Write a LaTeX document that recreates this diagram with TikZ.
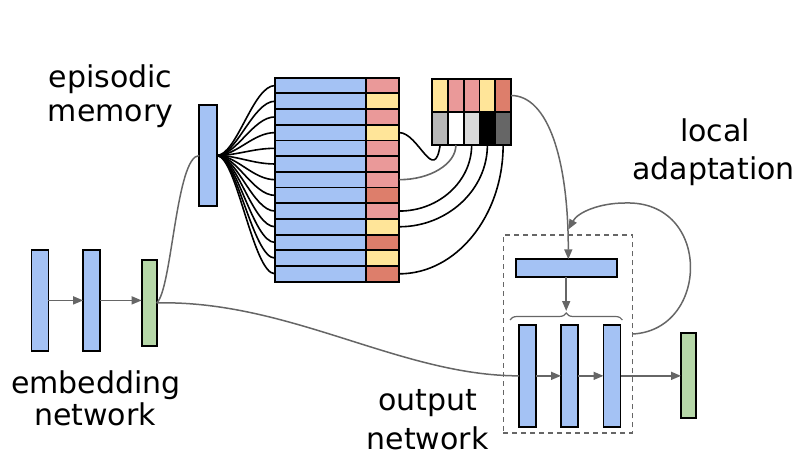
\documentclass[tikz,border=0pt]{standalone}
\usepackage{fontspec}
\setmainfont{DejaVu Sans}
\usetikzlibrary{arrows.meta,decorations.pathreplacing,calc}
\definecolor{cblue}{HTML}{A4C2F4}
\definecolor{cgreen}{HTML}{B6D7A8}
\definecolor{cyel}{HTML}{FFE599}
\definecolor{cpink}{HTML}{EA9999}
\definecolor{csal}{HTML}{DD7E6B}
\definecolor{cgA}{HTML}{B7B7B7}
\definecolor{cgB}{HTML}{D9D9D9}
\definecolor{cgC}{HTML}{666666}
\definecolor{cline}{HTML}{666666}
\begin{document}
\begin{tikzpicture}[x=1pt,y=-1pt,
 blk/.style={draw=black,line width=1.8pt,rectangle,inner sep=0pt,outer sep=0pt},
 conn/.style={draw=cline,line width=1.5pt},
 arr/.style={conn,-{Triangle[length=10pt,width=8pt]}},
 fan/.style={draw=black,line width=1.6pt},
 lbl/.style={font=\fontsize{30}{36}\selectfont,anchor=base,inner sep=0pt}]
\useasboundingbox (0,0) rectangle (803,473);

% embedding network
\node[blk,fill=cblue,minimum width=17pt,minimum height=100.7pt] (e1) at (39.9,300.4) {};
\node[blk,fill=cblue,minimum width=17pt,minimum height=100.7pt] (e2) at (91.7,300.4) {};
\node[blk,fill=cgreen,minimum width=15pt,minimum height=85.7pt] (eg) at (149.2,302.9) {};
\draw[arr] (e1.east) -- (e2.west);
\draw[arr] (e2.east) -- (e2.east -| eg.west);

% query
\node[blk,fill=cblue,minimum width=17.4pt,minimum height=101pt] (q) at (208,155.5) {};

% memory rows
\foreach \i/\c in {1/cpink,2/cyel,3/cpink,4/cyel,5/cpink,6/cpink,7/cpink,8/csal,9/cpink,10/cyel,11/csal,12/cyel,13/csal}{
  \node[blk,fill=cblue,minimum width=91pt,minimum height=15.69pt] (k\i) at (320.5,{77.7+15.69*(\i-0.5)}) {};
  \node[blk,fill=\c,minimum width=33.3pt,minimum height=15.69pt] (v\i) at (382.65,{77.7+15.69*(\i-0.5)}) {};
}
\foreach \i in {1,...,13}{
  \draw[fan] (q.east) .. controls +(20,0) and +(-22,0) .. (k\i.west);
}

% retrieved
\foreach \j/\ct/\cb in {1/cyel/cgA,2/cpink/white,3/cpink/cgB,4/cyel/black,5/csal/cgC}{
  \node[blk,fill=\ct,minimum width=15.74pt,minimum height=33pt] (t\j) at ({432.3+15.74*(\j-0.5)},95.5) {};
  \node[blk,fill=\cb,minimum width=15.74pt,minimum height=33pt] (b\j) at ({432.3+15.74*(\j-0.5)},128.5) {};
}
\draw[fan] (v4.east) .. controls +(19,0) and +(-6,40) .. (b1.south);
\draw[conn,line width=1.6pt] (v7.east) .. controls +(31,0) and +(0,19) .. (b2.south);
\draw[fan] (v9.east) .. controls +(40,0) and +(0,36) .. (b3.south);
\draw[fan] (v10.east) .. controls +(48,0) and +(0,45) .. (b4.south);
\draw[fan] (v13.east) .. controls +(57,0) and +(0,71) .. (b5.south);

% output network
\node[draw=cline,line width=1.5pt,dash pattern=on 5pt off 4pt,rectangle,inner sep=0pt,outer sep=0pt,minimum width=129.4pt,minimum height=198pt] (dash) at (568,334) {};
\node[blk,fill=cblue,minimum width=101pt,minimum height=18pt] (w) at (566.2,268.3) {};
\node[blk,fill=cblue,minimum width=17pt,minimum height=101.7pt] (o1) at (527.5,375.85) {};
\node[blk,fill=cblue,minimum width=17pt,minimum height=101.7pt] (o2) at (569.5,375.85) {};
\node[blk,fill=cblue,minimum width=17pt,minimum height=101.7pt] (o3) at (612,375.85) {};
\node[blk,fill=cgreen,minimum width=15pt,minimum height=85pt] (og) at (688.5,375.85) {};
\draw[arr] (o1.east) -- (o2.west);
\draw[arr] (o2.east) -- (o3.west);
\draw[arr] (o3.east) -- (og.west);

\coordinate (bl) at (510,320);
\coordinate (br) at (622.4,320);
\coordinate (btip) at (566.2,311);
\draw[conn,line width=1.2pt,decorate,decoration={brace,amplitude=7pt}] (bl) -- (br);
\draw[arr] (w.south) -- (btip);

\coordinate (win) at ($(w.north)+(2.1,0)$);
\draw[arr] (t5.east) .. controls +(37,0) and +(0,-100) .. (win);
\coordinate (loopend) at (568.3,229.5);
\draw[arr] (dash.east) .. controls (710,330) and (712,200) .. (625,203) .. controls (600,203) and (578,212) .. (loopend);

% embedding connectors
\draw[conn] (eg.east) .. controls (172,290) and (176,155.5) .. (q.west);
\draw[conn] (eg.east) .. controls (290,300) and (400,375.85) .. (o1.west);

% labels
\node[lbl] (l1) at (110.5,87.5) {episodic};
\node[lbl] (l2) at (110.5,121.7) {memory};
\node[lbl] (l3) at (715,141.7) {local};
\node[lbl] (l4) at (713.5,180) {adaptation};
\node[lbl] (l5) at (96,393.3) {embedding};
\node[lbl] (l6) at (95,425.7) {network};
\node[lbl] (l7) at (428,410) {output};
\node[lbl] (l8) at (427.5,449.3) {network};
\end{tikzpicture}
\end{document}
